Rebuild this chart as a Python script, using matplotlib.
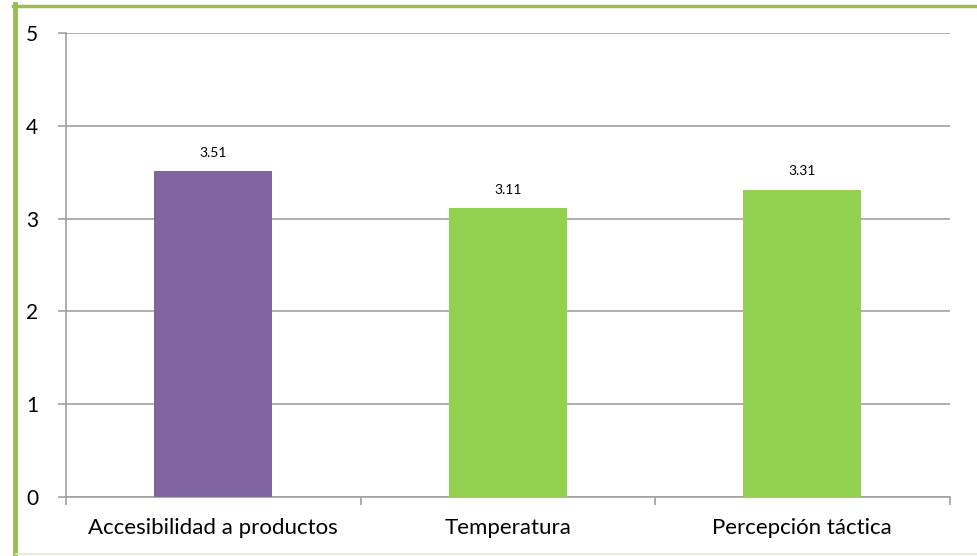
import matplotlib
matplotlib.use("Agg")
import matplotlib.pyplot as plt
from matplotlib.lines import Line2D

categories = ["Accesibilidad a productos", "Temperatura", "Percepción táctica"]
values = [3.51, 3.11, 3.31]
bar_colors = ["#8064A2", "#92D050", "#92D050"]
y_ticks = [0, 1, 2, 3, 4, 5]

plt.rcParams["font.family"] = ["Lato", "DejaVu Sans"]

fig = plt.figure(figsize=(9.77, 5.56), dpi=100)
ax = fig.add_axes([0.0675, 0.1061, 0.9045, 0.8345])

x = list(range(len(categories)))
ax.bar(x, values, width=0.4, color=bar_colors, zorder=3)
for xi, v in zip(x, values):
    ax.annotate(f"{v:.2f}", (xi, v), xytext=(0, 9), textcoords="offset points",
                ha="center", va="bottom", fontsize=10, color="#000000")

ax.set_xlim(-0.5, len(categories) - 0.5)
ax.set_ylim(0, 5)
ax.set_yticks(y_ticks)
ax.set_yticklabels([str(t) for t in y_ticks], fontsize=15)
ax.yaxis.grid(True, color="#A0A0A0", linewidth=1.2, zorder=0)
ax.tick_params(axis="y", length=6, width=1.2, color="#A0A0A0", pad=14)

# category labels without ticks; boundary ticks on the minor locator
ax.set_xticks(x)
ax.set_xticklabels(categories, fontsize=16)
ax.tick_params(axis="x", which="major", length=0, pad=15)
ax.set_xticks([i - 0.5 for i in range(len(categories) + 1)], minor=True)
ax.tick_params(axis="x", which="minor", length=6, width=1.2, color="#A0A0A0")

for s in ["top", "right"]:
    ax.spines[s].set_visible(False)
ax.spines["left"].set_color("#A0A0A0")
ax.spines["left"].set_linewidth(1.2)
ax.spines["bottom"].set_color("#A0A0A0")
ax.spines["bottom"].set_linewidth(1.2)

# outer chart frame
fig.add_artist(Line2D([14.5 / 977, 14.5 / 977], [0.0, 1 - 4 / 556],
                      transform=fig.transFigure, color="#9BBB59", linewidth=3.5))
fig.add_artist(Line2D([12.5 / 977, 1.0], [1 - 5.5 / 556, 1 - 5.5 / 556],
                      transform=fig.transFigure, color="#9BBB59", linewidth=2.5))
fig.add_artist(Line2D([16 / 977, 1.0], [2.5 / 556, 2.5 / 556],
                      transform=fig.transFigure, color="#E3EDD0", linewidth=1.2))

fig.savefig("out.png", dpi=100)
